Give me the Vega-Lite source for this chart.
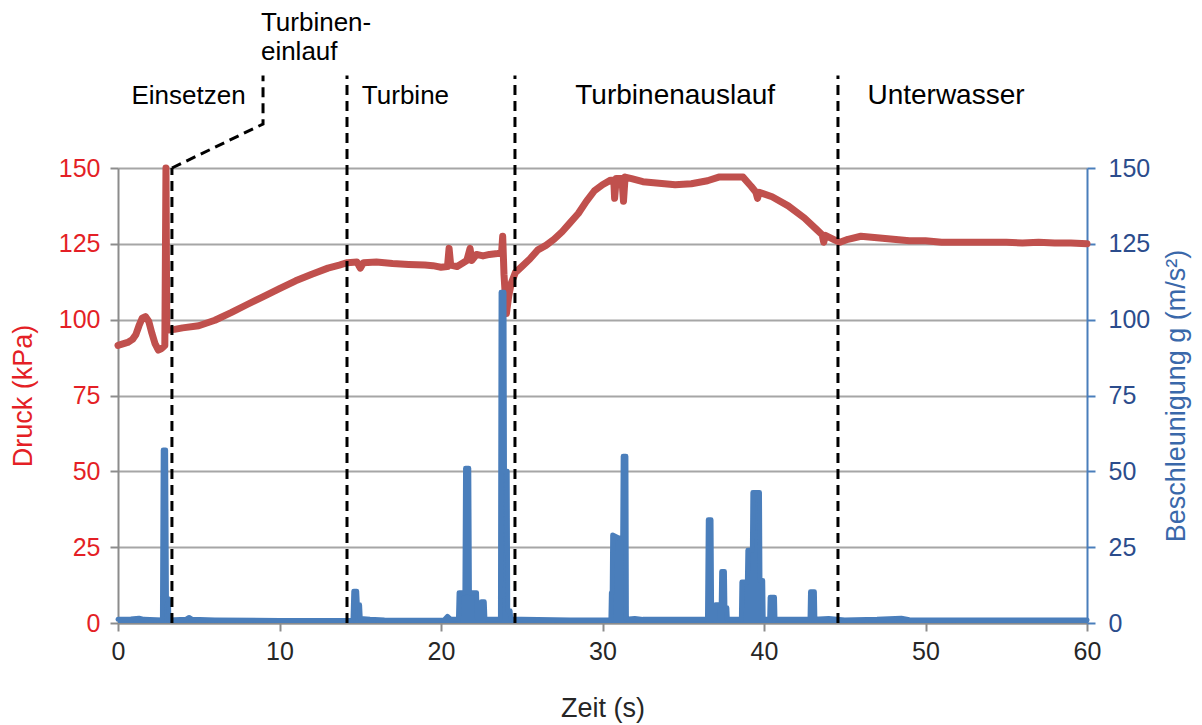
{
  "$schema": "https://vega.github.io/schema/vega-lite/v6.json",
  "width": 969,
  "height": 455,
  "autosize": {"type": "none"},
  "padding": {"left": 118, "top": 168, "right": 115, "bottom": 102},
  "background": "white",
  "config": {
    "view": {"stroke": null},
    "font": "Liberation Sans",
    "axis": {"labelFont": "Liberation Sans", "titleFont": "Liberation Sans", "titleFontWeight": "normal"}
  },
  "datasets": {
    "druck": [
      {"t": 0.0, "p": 91.5}, {"t": 0.3, "p": 92}, {"t": 0.6, "p": 92.5}, {"t": 0.9, "p": 93.5},
      {"t": 1.1, "p": 95}, {"t": 1.3, "p": 98}, {"t": 1.5, "p": 100.5}, {"t": 1.7, "p": 101},
      {"t": 1.9, "p": 99.5}, {"t": 2.1, "p": 95.5}, {"t": 2.3, "p": 92}, {"t": 2.5, "p": 90},
      {"t": 2.7, "p": 90.5}, {"t": 2.9, "p": 91.5}, {"t": 2.97, "p": 150}, {"t": 3.02, "p": 96.5},
      {"t": 3.5, "p": 96.8}, {"t": 4.0, "p": 97.3}, {"t": 5.0, "p": 98}, {"t": 6.0, "p": 99.8},
      {"t": 7.0, "p": 102.3}, {"t": 8.0, "p": 105}, {"t": 9.0, "p": 107.6}, {"t": 10.0, "p": 110.2},
      {"t": 11.0, "p": 112.8}, {"t": 12.0, "p": 115}, {"t": 13.0, "p": 117}, {"t": 13.7, "p": 118},
      {"t": 14.2, "p": 118.8}, {"t": 14.8, "p": 119}, {"t": 15.0, "p": 117}, {"t": 15.2, "p": 118.8},
      {"t": 16.0, "p": 119}, {"t": 17.0, "p": 118.5}, {"t": 18.0, "p": 118.2}, {"t": 19.0, "p": 118},
      {"t": 19.5, "p": 117.8}, {"t": 20.0, "p": 117.3}, {"t": 20.4, "p": 117.5}, {"t": 20.5, "p": 123.5},
      {"t": 20.6, "p": 118}, {"t": 21.0, "p": 117.5}, {"t": 21.3, "p": 118.5}, {"t": 21.6, "p": 119.5},
      {"t": 21.8, "p": 123.5}, {"t": 21.9, "p": 119.5}, {"t": 22.2, "p": 121.5}, {"t": 22.6, "p": 121},
      {"t": 23.0, "p": 121.5}, {"t": 23.5, "p": 121.8}, {"t": 23.75, "p": 122}, {"t": 23.82, "p": 127.5},
      {"t": 23.9, "p": 115}, {"t": 24.05, "p": 102}, {"t": 24.2, "p": 108}, {"t": 24.35, "p": 112},
      {"t": 24.6, "p": 115.5}, {"t": 25.0, "p": 117.5}, {"t": 25.5, "p": 120}, {"t": 26.0, "p": 123},
      {"t": 26.5, "p": 124.5}, {"t": 27.0, "p": 126.5}, {"t": 27.5, "p": 129}, {"t": 28.0, "p": 132},
      {"t": 28.5, "p": 135}, {"t": 29.0, "p": 139}, {"t": 29.5, "p": 142.5}, {"t": 30.0, "p": 144.5},
      {"t": 30.5, "p": 146}, {"t": 30.7, "p": 146}, {"t": 30.75, "p": 140}, {"t": 30.85, "p": 146.5},
      {"t": 31.2, "p": 146.5}, {"t": 31.3, "p": 139}, {"t": 31.4, "p": 147}, {"t": 31.8, "p": 146.5},
      {"t": 32.5, "p": 145.5}, {"t": 33.5, "p": 145}, {"t": 34.5, "p": 144.5}, {"t": 35.5, "p": 144.8},
      {"t": 36.5, "p": 145.8}, {"t": 37.2, "p": 147}, {"t": 38.0, "p": 147}, {"t": 38.7, "p": 147},
      {"t": 39.2, "p": 144}, {"t": 39.5, "p": 142}, {"t": 39.6, "p": 140}, {"t": 39.7, "p": 142},
      {"t": 40.5, "p": 140.5}, {"t": 41.5, "p": 137.5}, {"t": 42.5, "p": 133.5}, {"t": 43.2, "p": 130},
      {"t": 43.6, "p": 128}, {"t": 43.7, "p": 125.5}, {"t": 43.8, "p": 127.8}, {"t": 44.3, "p": 126.5},
      {"t": 44.7, "p": 125.5}, {"t": 45.2, "p": 126.5}, {"t": 46.0, "p": 127.5}, {"t": 47.0, "p": 127},
      {"t": 48.0, "p": 126.5}, {"t": 49.0, "p": 126}, {"t": 50.0, "p": 126}, {"t": 51.0, "p": 125.5},
      {"t": 52.0, "p": 125.5}, {"t": 53.0, "p": 125.5}, {"t": 54.0, "p": 125.5}, {"t": 55.0, "p": 125.5},
      {"t": 56.0, "p": 125.3}, {"t": 57.0, "p": 125.5}, {"t": 58.0, "p": 125.3}, {"t": 59.0, "p": 125.3},
      {"t": 60.0, "p": 125}
    ],
    "beschleunigung": [
      {"t": 0.0, "g": 1.2}, {"t": 0.8, "g": 1.3}, {"t": 1.3, "g": 1.6}, {"t": 1.6, "g": 1.2},
      {"t": 2.75, "g": 1.0}, {"t": 2.8, "g": 57}, {"t": 2.95, "g": 57}, {"t": 3.0, "g": 8},
      {"t": 3.12, "g": 8}, {"t": 3.15, "g": 1}, {"t": 4.2, "g": 1.2}, {"t": 4.4, "g": 1.8},
      {"t": 4.6, "g": 1.2}, {"t": 6.0, "g": 1}, {"t": 10.0, "g": 0.8}, {"t": 14.55, "g": 0.8},
      {"t": 14.6, "g": 10.5}, {"t": 14.78, "g": 10.5}, {"t": 14.82, "g": 6}, {"t": 14.96, "g": 6},
      {"t": 15.0, "g": 1.5}, {"t": 15.6, "g": 1.2}, {"t": 16.5, "g": 1}, {"t": 18.0, "g": 0.9},
      {"t": 20.2, "g": 1}, {"t": 20.4, "g": 2.2}, {"t": 20.6, "g": 1.2}, {"t": 21.08, "g": 1.2},
      {"t": 21.12, "g": 10}, {"t": 21.48, "g": 10}, {"t": 21.52, "g": 51}, {"t": 21.72, "g": 51},
      {"t": 21.76, "g": 10}, {"t": 22.2, "g": 10}, {"t": 22.24, "g": 1.5}, {"t": 22.45, "g": 1.5},
      {"t": 22.5, "g": 7}, {"t": 22.68, "g": 7}, {"t": 22.72, "g": 1.2}, {"t": 23.68, "g": 1.2},
      {"t": 23.72, "g": 109}, {"t": 23.9, "g": 109}, {"t": 23.93, "g": 50}, {"t": 24.1, "g": 50},
      {"t": 24.13, "g": 4}, {"t": 24.28, "g": 4}, {"t": 24.32, "g": 1.2}, {"t": 25.0, "g": 1.2},
      {"t": 28.0, "g": 1}, {"t": 30.52, "g": 1}, {"t": 30.55, "g": 10}, {"t": 30.6, "g": 10},
      {"t": 30.63, "g": 29}, {"t": 31.0, "g": 28}, {"t": 31.25, "g": 28}, {"t": 31.28, "g": 55},
      {"t": 31.45, "g": 55}, {"t": 31.48, "g": 1.2}, {"t": 32.0, "g": 1.5}, {"t": 32.5, "g": 1.2},
      {"t": 36.5, "g": 1.2}, {"t": 36.55, "g": 34}, {"t": 36.72, "g": 34}, {"t": 36.76, "g": 1.2},
      {"t": 36.95, "g": 1.2}, {"t": 37.0, "g": 6}, {"t": 37.35, "g": 6}, {"t": 37.38, "g": 17},
      {"t": 37.55, "g": 17}, {"t": 37.58, "g": 5}, {"t": 37.7, "g": 5}, {"t": 37.73, "g": 1.2},
      {"t": 38.6, "g": 1.2}, {"t": 38.63, "g": 13.5}, {"t": 38.97, "g": 13.5}, {"t": 39.0, "g": 24},
      {"t": 39.28, "g": 24}, {"t": 39.31, "g": 43}, {"t": 39.72, "g": 43}, {"t": 39.75, "g": 14},
      {"t": 39.92, "g": 14}, {"t": 39.95, "g": 1.2}, {"t": 40.35, "g": 1.2}, {"t": 40.38, "g": 8.5},
      {"t": 40.65, "g": 8.5}, {"t": 40.68, "g": 1.2}, {"t": 42.85, "g": 1.2}, {"t": 42.88, "g": 10.3},
      {"t": 43.12, "g": 10.3}, {"t": 43.15, "g": 1.2}, {"t": 44.0, "g": 1.5}, {"t": 45.0, "g": 1},
      {"t": 47.0, "g": 1.2}, {"t": 48.5, "g": 1.6}, {"t": 49.0, "g": 1.1}, {"t": 52.0, "g": 1},
      {"t": 60.0, "g": 1}
    ],
    "phasen": [
      {"t": 3.34, "von": 0, "bis": 150},
      {"t": 14.18, "von": 0, "bis": 180.5},
      {"t": 24.58, "von": 0, "bis": 180.5},
      {"t": 44.58, "von": 0, "bis": 180.5}
    ],
    "einlauf": [
      {"i": 1, "t": 3.34, "y": 150},
      {"i": 2, "t": 8.98, "y": 164.5},
      {"i": 3, "t": 8.98, "y": 180.5}
    ],
    "beschriftung": [
      {"t": 4.37, "y": 173.6, "text": "Einsetzen"},
      {"t": 8.85, "y": 197.8, "text": "Turbinen-"},
      {"t": 8.85, "y": 188.4, "text": "einlauf"},
      {"t": 15.1, "y": 173.6, "text": "Turbine"},
      {"t": 34.5, "y": 173.6, "text": "Turbinenauslauf"},
      {"t": 51.27, "y": 173.6, "text": "Unterwasser"}
    ]
  },
  "encoding": {
    "x": {
      "field": "t",
      "type": "quantitative",
      "title": "Zeit (s)",
      "scale": {"domain": [0, 60], "nice": false, "zero": false},
      "axis": {
        "values": [0, 10, 20, 30, 40, 50, 60],
        "grid": false,
        "domainColor": "#8c8c8c",
        "domainWidth": 2,
        "tickColor": "#8c8c8c",
        "tickWidth": 2,
        "tickSize": 8,
        "labelFontSize": 25,
        "labelColor": "#262626",
        "labelPadding": 8,
        "labelFlush": false,
        "titleFontSize": 27,
        "titleColor": "#262626",
        "titlePadding": 31
      }
    }
  },
  "layer": [
    {
      "data": {"name": "druck"},
      "mark": {"type": "line", "color": "#c0504d", "strokeWidth": 7, "strokeJoin": "round", "strokeCap": "round", "clip": false},
      "encoding": {
        "y": {
          "field": "p",
          "type": "quantitative",
          "title": "Druck (kPa)",
          "scale": {"domain": [0, 150], "nice": false},
          "axis": {
            "orient": "left",
            "values": [0, 25, 50, 75, 100, 125, 150],
            "grid": true,
            "gridColor": "#a6a6a6",
            "gridWidth": 2,
            "domainColor": "#8c8c8c",
            "domainWidth": 2,
            "tickColor": "#8c8c8c",
            "tickWidth": 2,
            "tickSize": 8,
            "labelFontSize": 25,
            "labelColor": "#e41f26",
            "labelPadding": 10,
            "titleFontSize": 27,
            "titleColor": "#e41f26",
            "titlePadding": 21
          }
        }
      }
    },
    {
      "data": {"name": "beschleunigung"},
      "mark": {"type": "area", "color": "#4a7ebb", "opacity": 1, "clip": false},
      "encoding": {
        "y": {"field": "g", "type": "quantitative", "scale": {"domain": [0, 150], "nice": false}, "axis": null}
      }
    },
    {
      "data": {"name": "beschleunigung"},
      "mark": {"type": "line", "color": "#4a7ebb", "strokeWidth": 5, "strokeJoin": "round", "strokeCap": "round", "clip": false},
      "encoding": {
        "y": {
          "field": "g",
          "type": "quantitative",
          "title": "Beschleunigung g (m/s²)",
          "scale": {"domain": [0, 150], "nice": false},
          "axis": {
            "orient": "right",
            "values": [0, 25, 50, 75, 100, 125, 150],
            "grid": false,
            "domainColor": "#4a7ebb",
            "domainWidth": 2,
            "tickColor": "#4a7ebb",
            "tickWidth": 2,
            "tickSize": 8,
            "labelFontSize": 25,
            "labelColor": "#2b4c8c",
            "labelPadding": 13,
            "titleFontSize": 27,
            "titleColor": "#3a68aa",
            "titleAngle": 270,
            "titleBaseline": "top",
            "titlePadding": 14
          }
        }
      }
    },
    {
      "data": {"name": "phasen"},
      "mark": {"type": "rule", "color": "black", "strokeWidth": 3, "strokeDash": [10, 6], "clip": false},
      "encoding": {
        "y": {"field": "von", "type": "quantitative", "scale": {"domain": [0, 150], "nice": false}, "axis": null},
        "y2": {"field": "bis"}
      }
    },
    {
      "data": {"name": "einlauf"},
      "mark": {"type": "line", "color": "black", "strokeWidth": 3, "strokeDash": [10, 6], "clip": false},
      "encoding": {
        "y": {"field": "y", "type": "quantitative", "scale": {"domain": [0, 150], "nice": false}, "axis": null},
        "order": {"field": "i", "type": "quantitative"}
      }
    },
    {
      "data": {"name": "beschriftung"},
      "transform": [{"filter": {"field": "text", "oneOf": ["Einsetzen"]}}],
      "mark": {"type": "text", "fontSize": 26, "color": "#000000", "align": "center", "baseline": "middle", "clip": false},
      "encoding": {
        "y": {"field": "y", "type": "quantitative", "scale": {"domain": [0, 150], "nice": false}, "axis": null},
        "text": {"field": "text"}
      }
    },
    {
      "data": {"name": "beschriftung"},
      "transform": [{"filter": {"field": "text", "oneOf": ["Turbinen-", "einlauf", "Turbine"]}}],
      "mark": {"type": "text", "fontSize": 26, "color": "#000000", "align": "left", "baseline": "middle", "clip": false},
      "encoding": {
        "y": {"field": "y", "type": "quantitative", "scale": {"domain": [0, 150], "nice": false}, "axis": null},
        "text": {"field": "text"}
      }
    },
    {
      "data": {"name": "beschriftung"},
      "transform": [{"filter": {"field": "text", "oneOf": ["Turbinenauslauf", "Unterwasser"]}}],
      "mark": {"type": "text", "fontSize": 28, "color": "#000000", "align": "center", "baseline": "middle", "clip": false},
      "encoding": {
        "y": {"field": "y", "type": "quantitative", "scale": {"domain": [0, 150], "nice": false}, "axis": null},
        "text": {"field": "text"}
      }
    }
  ],
  "resolve": {"scale": {"y": "independent"}, "axis": {"y": "independent"}}
}
